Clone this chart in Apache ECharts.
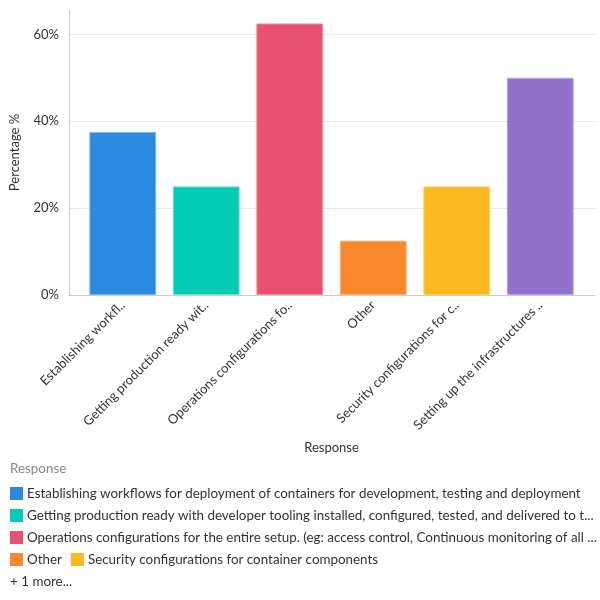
<!DOCTYPE html>
<html><head><meta charset="utf-8">
<script src="https://cdn.jsdelivr.net/npm/echarts@6/dist/echarts.min.js"></script>
<style>html,body{margin:0;padding:0;background:#fff}#c{width:600px;height:600px}</style>
</head><body><div id="c"></div>
<script>
const categories = [
  "Establishing workflows for deployment of containers for development, testing and deployment",
  "Getting production ready with developer tooling installed, configured, tested, and delivered to teams",
  "Operations configurations for the entire setup. (eg: access control, Continuous monitoring of all components)",
  "Other",
  "Security configurations for container components",
  "Setting up the infrastructures for containers"
];
const tickLabels = [
  "Establishing workfl..",
  "Getting production ready wit..",
  "Operations configurations fo..",
  "Other",
  "Security configurations for c..",
  "Setting up the infrastructures .."
];
const values = [37.5, 25, 62.5, 12.5, 25, 50];
const colors = ["#2a8ae2", "#02ccb4", "#e8516f", "#f7882c", "#fcba21", "#9173cd"];
const borders = ["#7ab6ee", "#6fe0d2", "#f08ca0", "#faad6f", "#fdd06e", "#b6a2e0"];
const yTicks = [0, 20, 40, 60];
const yMax = 65.6;
const legendShown = 5;

const font = "Lato, 'Noto Sans', sans-serif";
const chart = echarts.init(document.getElementById('c'), null, {renderer: 'canvas'});

const series = categories.map((name, i) => ({
  name: name,
  type: 'bar',
  stack: 'all',
  xAxisIndex: 0,
  yAxisIndex: 0,
  barCategoryGap: '20%',
  itemStyle: {color: colors[i], borderColor: borders[i], borderWidth: 1},
  emphasis: {disabled: true},
  data: categories.map((c, j) => j === i ? values[i] : '-')
}));

const legendData = categories.slice(0, legendShown).map((name, i) => {
  const item = {name: name};
  if (i === 1 || i === 2) item.textStyle = {width: 574, overflow: 'truncate', ellipsis: '...'};
  return item;
});

chart.setOption({
  animation: false,
  textStyle: {fontFamily: font},
  grid: [
    {left: 81, right: 18, top: 10, bottom: 305},
    {left: 68, right: 5, top: 10, bottom: 305}
  ],
  xAxis: [
    {
      type: 'category', gridIndex: 0, data: categories,
      axisLine: {show: false}, axisTick: {show: false},
      axisLabel: {
        rotate: 45, interval: 0, margin: 8, fontSize: 13, color: '#333', fontFamily: font,
        formatter: (v, idx) => tickLabels[idx]
      },
      name: 'Response', nameLocation: 'middle', nameGap: 146,
      nameTextStyle: {fontSize: 13, color: '#333', fontFamily: font}
    },
    {
      type: 'value', gridIndex: 1, min: 0, max: 1,
      axisLine: {show: true, lineStyle: {color: '#cccccc'}},
      axisTick: {show: false}, axisLabel: {show: false}, splitLine: {show: false}
    }
  ],
  yAxis: [
    {type: 'value', gridIndex: 0, min: 0, max: yMax, interval: 20, show: false, splitLine: {show: false}},
    {
      type: 'value', gridIndex: 1, min: 0, max: yMax, interval: 20,
      axisLine: {show: true, lineStyle: {color: '#cccccc'}},
      axisTick: {show: false},
      axisLabel: {
        fontSize: 13, color: '#333', fontFamily: font, margin: 10, showMaxLabel: false,
        formatter: v => (yTicks.indexOf(v) >= 0 ? v + '%' : '')
      },
      splitLine: {show: true, showMinLine: false, showMaxLine: false, lineStyle: {color: '#e8e8e8'}},
      name: 'Percentage %', nameLocation: 'middle', nameGap: 48, nameRotate: 90,
      nameTextStyle: {fontSize: 13, color: '#333', fontFamily: font}
    }
  ],
  legend: {
    left: 5, top: 482, width: 596, orient: 'horizontal',
    icon: 'rect', itemWidth: 13, itemHeight: 13, itemGap: 9,
    itemStyle: {borderWidth: 0},
    textStyle: {fontSize: 13.4, color: '#333', fontFamily: font, padding: [0, 0, 0, -1]},
    selectedMode: false,
    data: legendData
  },
  graphic: [
    {type: 'text', left: 10, top: 462, style: {text: 'Response', fontSize: 13.4, fill: '#888', fontFamily: font}},
    {type: 'text', left: 10, top: 575, style: {text: '+ ' + (categories.length - legendShown) + ' more...', fontSize: 13.4, fill: '#333', fontFamily: font}}
  ],
  series: series
});
</script></body></html>
